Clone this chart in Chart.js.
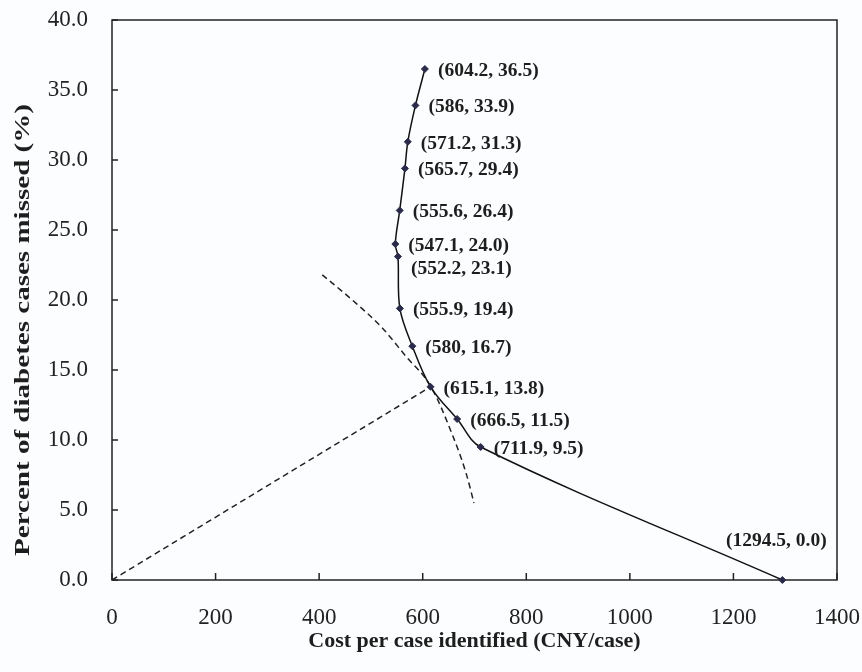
<!DOCTYPE html>
<html>
<head>
<meta charset="utf-8">
<script src="https://cdn.jsdelivr.net/npm/chart.js@4.4.1/dist/chart.umd.min.js"></script>
<style>
  html, body { margin: 0; padding: 0; background: #fcfdfe; }
  #wrap { width: 862px; height: 672px; }
</style>
</head>
<body>
<div id="wrap"><canvas id="myChart" width="862" height="672"></canvas></div>
<script>
// screening thresholds: cost per case identified vs percent missed
var costs  = [604.2, 586, 571.2, 565.7, 555.6, 547.1, 552.2, 555.9, 580, 615.1, 666.5, 711.9, 1294.5];
var missed = [36.5, 33.9, 31.3, 29.4, 26.4, 24.0, 23.1, 19.4, 16.7, 13.8, 11.5, 9.5, 0.0];
var pointLabels = ['(604.2, 36.5)', '(586, 33.9)', '(571.2, 31.3)', '(565.7, 29.4)', '(555.6, 26.4)',
    '(547.1, 24.0)', '(552.2, 23.1)', '(555.9, 19.4)', '(580, 16.7)', '(615.1, 13.8)',
    '(666.5, 11.5)', '(711.9, 9.5)', '(1294.5, 0.0)'];

// dashed curve
var curveX = [406, 464, 522, 567, 616, 657, 684, 699];
var curveY = [21.8, 20.0, 18.0, 16.0, 13.8, 10.4, 7.6, 5.5];

// dashed line from the origin to the chosen point
var rayX = [0, 615.1];
var rayY = [0, 13.8];

var xTicks = [0, 200, 400, 600, 800, 1000, 1200, 1400];
var yTicks = [0, 5, 10, 15, 20, 25, 30, 35, 40];

var xTitle = 'Cost per case identified (CNY/case)';
var yTitle = 'Percent of diabetes cases missed (%)';

function toPoints(xs, ys) {
    var pts = [];
    for (var i = 0; i < xs.length; i++) pts.push({x: xs[i], y: ys[i]});
    return pts;
}

var serif = '"Liberation Serif", "Times New Roman", serif';

var framePlugin = {
    id: 'frame',
    beforeDatasetsDraw: function (chart) {
        var ctx = chart.ctx, a = chart.chartArea;
        var xs = chart.scales.x, ys = chart.scales.y;
        ctx.save();
        ctx.strokeStyle = '#222';
        ctx.lineWidth = 1.5;
        ctx.strokeRect(a.left, a.top, a.right - a.left, a.bottom - a.top);
        ctx.beginPath();
        xTicks.forEach(function (v) {
            var px = xs.getPixelForValue(v);
            ctx.moveTo(px, a.bottom);
            ctx.lineTo(px, a.bottom - 7);
        });
        yTicks.forEach(function (v) {
            var py = ys.getPixelForValue(v);
            ctx.moveTo(a.left, py);
            ctx.lineTo(a.left + 6, py);
        });
        ctx.stroke();
        ctx.restore();
    },
    afterDatasetsDraw: function (chart) {
        var ctx = chart.ctx;
        var meta = chart.getDatasetMeta(0);
        ctx.save();
        ctx.font = 'bold 19.5px ' + serif;
        ctx.fillStyle = '#1e1e1e';
        ctx.textBaseline = 'middle';
        meta.data.forEach(function (pt, i) {
            var txt = pointLabels[i];
            if (i === pointLabels.length - 1) {
                ctx.textAlign = 'center';
                ctx.fillText(txt, pt.x - 6, pt.y - 39);
            } else {
                ctx.textAlign = 'left';
                ctx.fillText(txt, pt.x + 13, pt.y + (i === 6 ? 12 : 2));
            }
        });
        ctx.restore();
    },
    afterDraw: function (chart) {
        // y axis title, stretched along its length like the original figure
        var ctx = chart.ctx;
        ctx.save();
        ctx.translate(23, 330);
        ctx.rotate(-Math.PI / 2);
        ctx.scale(1.32, 1);
        ctx.font = 'bold 22px ' + serif;
        ctx.fillStyle = '#1e1e1e';
        ctx.textAlign = 'center';
        ctx.textBaseline = 'middle';
        ctx.fillText(yTitle, 0, 0);
        ctx.restore();
    }
};

var ctx = document.getElementById('myChart').getContext('2d');
var myChart = new Chart(ctx, {
    type: 'scatter',
    data: {
        datasets: [{
            label: 'Cut-off points',
            data: toPoints(costs, missed),
            showLine: true,
            tension: 0.35,
            borderColor: '#111',
            borderWidth: 1.5,
            pointStyle: 'rectRot',
            pointRadius: 3.5,
            pointBackgroundColor: '#2a2a4a',
            pointBorderColor: '#2a2a4a',
            pointBorderWidth: 1,
            clip: false
        }, {
            label: 'Iso curve',
            data: toPoints(curveX, curveY),
            showLine: true,
            cubicInterpolationMode: 'monotone',
            borderColor: '#222',
            borderWidth: 1.5,
            borderDash: [6, 4],
            pointRadius: 0
        }, {
            label: 'Ray',
            data: toPoints(rayX, rayY),
            showLine: true,
            borderColor: '#222',
            borderWidth: 1.5,
            borderDash: [6, 4],
            pointRadius: 0
        }]
    },
    options: {
        responsive: false,
        animation: false,
        layout: { padding: { top: 20, right: 25, left: 0, bottom: 0 } },
        plugins: {
            legend: { display: false },
            tooltip: { enabled: false }
        },
        scales: {
            x: {
                type: 'linear',
                min: 0,
                max: 1400,
                afterFit: function (scale) {
                    scale.height = 92;
                    scale.paddingLeft = 0;
                    scale.paddingRight = 0;
                },
                afterBuildTicks: function (scale) {
                    scale.ticks = xTicks.map(function (v) { return {value: v}; });
                },
                grid: { display: false, drawTicks: false },
                border: { display: false },
                ticks: {
                    padding: 24,
                    color: '#222',
                    font: { family: serif, size: 23 },
                    callback: function (v) { return String(v); }
                },
                title: {
                    display: true,
                    text: xTitle,
                    color: '#1e1e1e',
                    font: { family: serif, size: 22, weight: 'bold' },
                    padding: { top: 0, bottom: 17 }
                }
            },
            y: {
                type: 'linear',
                min: 0,
                max: 40,
                afterFit: function (scale) {
                    scale.width = 112;
                    scale.paddingTop = 0;
                    scale.paddingBottom = 0;
                },
                afterBuildTicks: function (scale) {
                    scale.ticks = yTicks.map(function (v) { return {value: v}; });
                },
                grid: { display: false, drawTicks: false },
                border: { display: false },
                ticks: {
                    padding: 24,
                    color: '#222',
                    font: { family: serif, size: 23 },
                    callback: function (v) { return v.toFixed(1); }
                },
                title: { display: false }
            }
        }
    },
    plugins: [framePlugin]
});
</script>
</body>
</html>
